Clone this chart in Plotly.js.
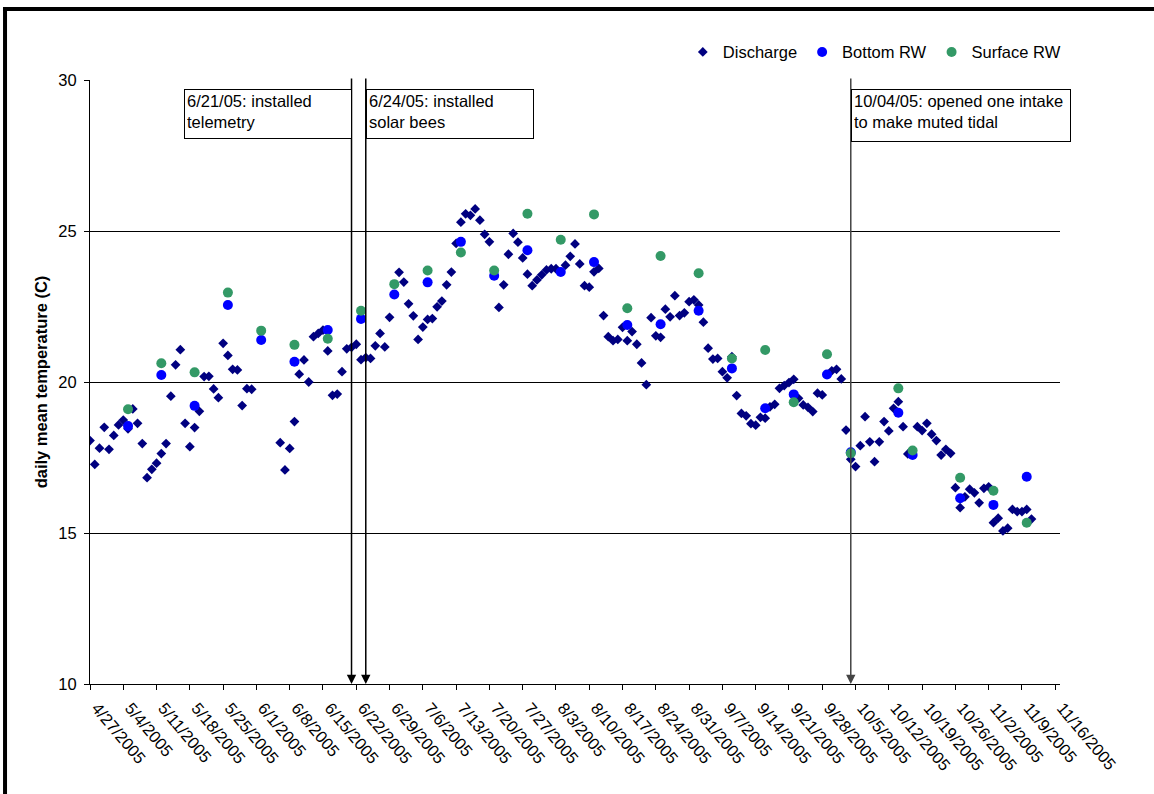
<!DOCTYPE html>
<html>
<head>
<meta charset="utf-8">
<script src="https://cdn.plot.ly/plotly-3.0.1.min.js"></script>
<style>
  html, body { margin: 0; padding: 0; background: #fff; }
  #chart { width: 1154px; height: 794px; }
</style>
</head>
<body>
<div id="chart"></div>
<script>
// ---- Data ----
const dischargeDates = [
  '2005-04-27','2005-04-28','2005-04-29','2005-04-30','2005-05-01','2005-05-02','2005-05-03','2005-05-04',
  '2005-05-05','2005-05-06','2005-05-07','2005-05-08','2005-05-09','2005-05-10','2005-05-11','2005-05-12',
  '2005-05-13','2005-05-14','2005-05-15','2005-05-16','2005-05-17','2005-05-18','2005-05-19','2005-05-20',
  '2005-05-21','2005-05-22','2005-05-23','2005-05-24','2005-05-25','2005-05-26','2005-05-27','2005-05-28',
  '2005-05-29','2005-05-30','2005-05-31',
  '2005-06-06','2005-06-07','2005-06-08','2005-06-09','2005-06-10','2005-06-11','2005-06-12','2005-06-13',
  '2005-06-14','2005-06-15','2005-06-16','2005-06-17','2005-06-18','2005-06-19','2005-06-20','2005-06-21',
  '2005-06-22','2005-06-23','2005-06-24','2005-06-25','2005-06-26','2005-06-27','2005-06-28','2005-06-29',
  '2005-07-01','2005-07-02','2005-07-03','2005-07-04','2005-07-05','2005-07-06','2005-07-07','2005-07-08',
  '2005-07-09','2005-07-10','2005-07-11','2005-07-12','2005-07-13','2005-07-14','2005-07-15','2005-07-16',
  '2005-07-17','2005-07-18','2005-07-19','2005-07-20',
  '2005-07-22','2005-07-23','2005-07-24','2005-07-25','2005-07-26','2005-07-27','2005-07-28','2005-07-29',
  '2005-07-30','2005-07-31','2005-08-01','2005-08-02','2005-08-03',
  '2005-08-05','2005-08-06','2005-08-07','2005-08-08','2005-08-09','2005-08-10','2005-08-11','2005-08-12',
  '2005-08-13','2005-08-14','2005-08-15','2005-08-16','2005-08-17','2005-08-18','2005-08-19','2005-08-20',
  '2005-08-21','2005-08-22','2005-08-23','2005-08-24','2005-08-25','2005-08-26','2005-08-27','2005-08-28',
  '2005-08-29','2005-08-30','2005-08-31','2005-09-01','2005-09-02','2005-09-03','2005-09-04','2005-09-05',
  '2005-09-06','2005-09-07','2005-09-08','2005-09-09','2005-09-10','2005-09-11','2005-09-12','2005-09-13',
  '2005-09-14','2005-09-15','2005-09-16','2005-09-17','2005-09-18','2005-09-19','2005-09-20','2005-09-21',
  '2005-09-22','2005-09-23','2005-09-24','2005-09-25','2005-09-26','2005-09-27','2005-09-28',
  '2005-09-30','2005-10-01','2005-10-02','2005-10-03','2005-10-04','2005-10-05','2005-10-06','2005-10-07',
  '2005-10-08','2005-10-09','2005-10-10','2005-10-11','2005-10-12','2005-10-13','2005-10-14','2005-10-15',
  '2005-10-16',
  '2005-10-18','2005-10-19','2005-10-20','2005-10-21','2005-10-22','2005-10-23','2005-10-24','2005-10-25',
  '2005-10-26','2005-10-27','2005-10-28','2005-10-29','2005-10-30','2005-10-31','2005-11-01','2005-11-02',
  '2005-11-03','2005-11-04','2005-11-05','2005-11-06','2005-11-07','2005-11-08','2005-11-09','2005-11-10',
  '2005-11-11'
];
const dischargeTemp = [
  18.06,17.27,17.81,18.50,17.77,18.23,18.58,18.74,
  18.45,19.11,18.63,17.96,16.83,17.11,17.31,17.63,
  17.96,19.53,20.57,21.07,18.63,17.86,18.49,19.03,
  20.18,20.19,19.77,19.48,21.28,20.88,20.42,20.40,
  19.22,19.78,19.76,
  17.99,17.09,17.80,18.69,20.26,20.73,20.00,21.50,
  21.61,21.72,21.03,19.56,19.60,20.34,21.10,21.15,
  21.25,20.74,20.81,20.78,21.20,21.61,21.16,22.14,
  23.63,23.31,22.59,22.19,21.41,21.82,22.07,22.10,
  22.49,22.68,23.22,23.64,24.59,25.29,25.57,25.52,
  25.73,25.36,24.89,24.64,
  22.47,23.22,24.23,24.92,24.63,24.11,23.57,23.19,
  23.38,23.55,23.71,23.75,23.75,
  23.87,24.16,24.57,23.91,23.19,23.14,23.65,23.76,
  22.20,21.50,21.37,21.41,21.81,21.37,21.67,21.25,
  20.63,19.91,22.13,21.53,21.48,22.41,22.16,22.86,
  22.20,22.29,22.66,22.72,22.55,21.98,21.12,20.76,
  20.78,20.34,20.14,20.84,19.55,18.96,18.88,18.62,
  18.57,18.83,18.80,19.18,19.26,19.79,19.88,19.98,
  20.09,19.46,19.24,19.16,19.02,19.63,19.57,
  20.37,20.42,20.10,18.41,17.44,17.20,17.89,18.85,
  18.02,17.36,18.02,18.69,18.38,19.13,19.35,18.52,
  17.62,
  18.52,18.39,18.63,18.27,18.06,17.58,17.77,17.64,
  16.50,15.84,16.20,16.45,16.33,16.00,16.48,16.53,
  15.34,15.49,15.07,15.16,15.78,15.71,15.71,15.78,
  15.46
];

const sampleDates = [
  '2005-05-05','2005-05-12','2005-05-19','2005-05-26','2005-06-02','2005-06-09','2005-06-16','2005-06-23',
  '2005-06-30','2005-07-07','2005-07-14','2005-07-21','2005-07-28','2005-08-04','2005-08-11','2005-08-18',
  '2005-08-25','2005-09-02','2005-09-09','2005-09-16','2005-09-22','2005-09-29','2005-10-04','2005-10-14',
  '2005-10-17','2005-10-27','2005-11-03','2005-11-10'
];
const bottomRW = [
  18.54,20.23,19.21,22.55,21.39,20.67,21.72,22.09,
  22.90,23.30,24.64,23.52,24.36,23.64,23.97,21.89,
  21.91,22.36,20.45,19.13,19.59,20.25,17.67,18.98,
  17.58,16.15,15.93,16.86
];
const surfaceRW = [
  19.10,20.62,20.32,22.96,21.70,21.23,21.43,22.36,
  23.24,23.69,24.29,23.69,25.57,24.71,25.55,22.44,
  24.17,23.60,20.78,21.06,19.33,20.92,17.64,19.79,
  17.73,16.83,16.40,15.34
];

const seriesNames = ['Discharge', 'Bottom RW', 'Surface RW'];
const eventDates = ['2005-06-21', '2005-06-24', '2005-10-04'];
const eventLabels = [
  '6/21/05: installed<br>telemetry',
  '6/24/05: installed<br>solar bees',
  '10/04/05: opened one intake<br>to make muted tidal'
];
const xRange = ['2005-04-27', '2005-11-17'];
const yRange = [10, 30];
const yTitle = 'daily mean temperature (C)';

// ---- Chart ----
const FONT = 'Arial, "Liberation Sans", Helvetica, sans-serif';

const traces = [
  { x: dischargeDates, y: dischargeTemp, name: seriesNames[0], type: 'scatter', mode: 'markers',
    marker: { symbol: 'diamond', size: 7.5, color: '#000080' } },
  { x: sampleDates, y: bottomRW, name: seriesNames[1], type: 'scatter', mode: 'markers',
    marker: { symbol: 'circle', size: 10, color: '#0000FF' } },
  { x: sampleDates, y: surfaceRW, name: seriesNames[2], type: 'scatter', mode: 'markers',
    marker: { symbol: 'circle', size: 10, color: '#339966' } }
];

const annotations = [];
// vertical event arrows
eventDates.forEach((d, i) => {
  annotations.push({
    x: d, y: yRange[0], xref: 'x', yref: 'y',
    ax: d, ay: yRange[1] + 0.1, axref: 'x', ayref: 'y',
    text: '', showarrow: true, arrowhead: 2, arrowsize: 1.25, arrowwidth: 1.5,
    arrowcolor: i === 2 ? '#444444' : '#000000'
  });
});
// event text boxes
const boxAnchor = ['right', 'left', 'left'];
const boxWidth = [162, 162, 214];
const boxHeight = [44, 44, 47];
eventDates.forEach((d, i) => {
  annotations.push({
    x: d, xref: 'x', xanchor: boxAnchor[i],
    y: 0.985, yref: 'paper', yanchor: 'top',
    text: eventLabels[i], showarrow: false, align: 'left', valign: 'top',
    width: boxWidth[i], height: boxHeight[i],
    bordercolor: '#000', borderwidth: 1, borderpad: 2, bgcolor: '#fff',
    font: { family: FONT, size: 16.5, color: '#000' }
  });
});

const layout = {
  width: 1154, height: 794,
  margin: { l: 90, r: 94, t: 80, b: 110 },
  paper_bgcolor: '#fff', plot_bgcolor: '#fff',
  font: { family: FONT, color: '#000' },
  showlegend: true,
  legend: {
    orientation: 'h', x: 1.006, xanchor: 'right', y: 1.046, yanchor: 'middle',
    font: { family: FONT, size: 16.5, color: '#000' }, bgcolor: 'rgba(0,0,0,0)',
    itemwidth: 30, traceorder: 'normal', tracegroupgap: 0
  },
  xaxis: {
    type: 'date', range: xRange, autorange: false,
    tick0: xRange[0], dtick: 7 * 86400000, tickformat: '%-m/%-d/%Y',
    tickangle: 50, tickfont: { family: FONT, size: 16.5, color: '#000' },
    ticklabelshift: 7, ticklabelstandoff: 2,
    ticks: 'outside', ticklen: 5, tickcolor: '#000', tickwidth: 1,
    showline: true, linecolor: '#000', linewidth: 1,
    showgrid: false, zeroline: false, automargin: false
  },
  yaxis: {
    range: yRange, autorange: false, tick0: 10, dtick: 5,
    tickfont: { family: FONT, size: 16.5, color: '#000' },
    ticks: 'outside', ticklen: 5, tickcolor: '#000', tickwidth: 1, ticklabelstandoff: 4,
    showline: true, linecolor: '#000', linewidth: 1,
    showgrid: true, gridcolor: '#000', gridwidth: 1, zeroline: false, automargin: false,
    title: { text: '<b>' + yTitle + '</b>', font: { family: FONT, size: 16.5, color: '#000' }, standoff: 6 }
  },
  annotations: annotations,
  shapes: [
    { type: 'line', xref: 'paper', yref: 'paper', x0: -0.0876, x1: -0.0876, y0: -0.25, y1: 1.1175,
      line: { color: '#000', width: 4 } },
    { type: 'line', xref: 'paper', yref: 'paper', x0: -0.0897, x1: 1.2, y0: 1.1175, y1: 1.1175,
      line: { color: '#000', width: 4 } }
  ]
};

Plotly.newPlot('chart', traces, layout, { displayModeBar: false, staticPlot: true });
</script>
</body>
</html>
